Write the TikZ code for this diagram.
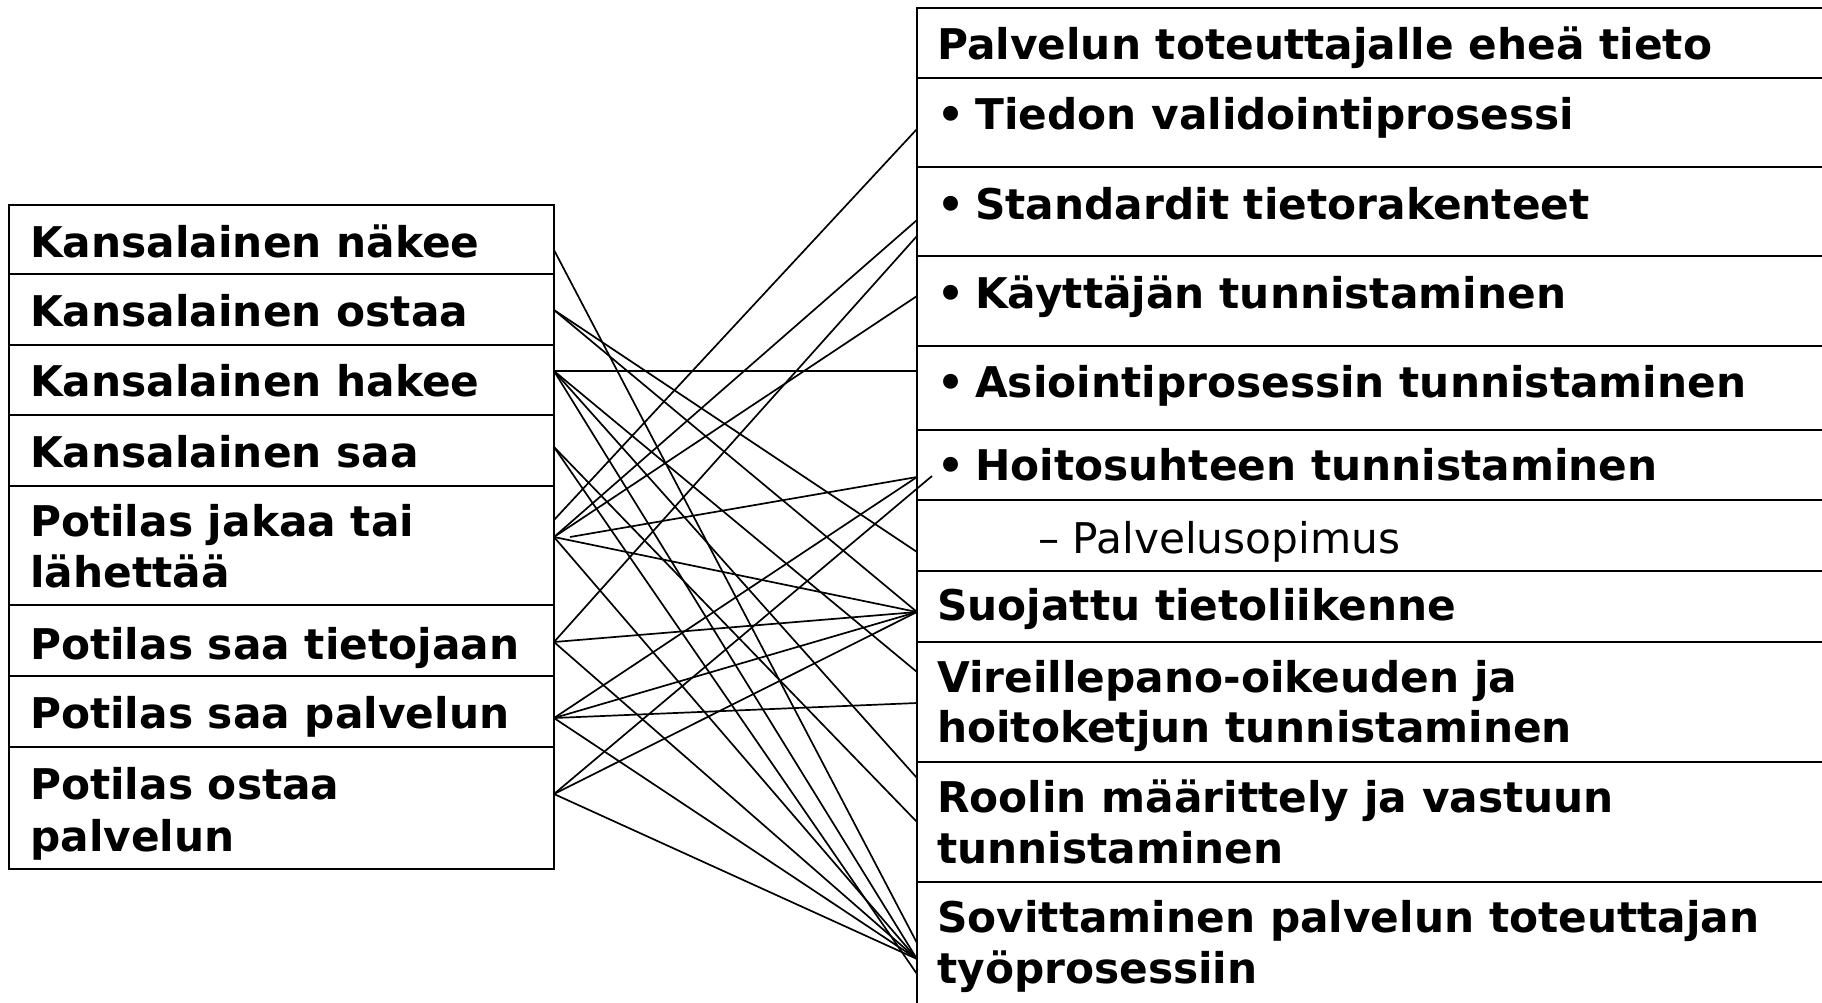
\documentclass[tikz,border=0pt]{standalone}
\usepackage{fontspec}
\setmainfont{DejaVu Sans}
\begin{document}
\begin{tikzpicture}[x=1pt,y=-1pt,
  box/.style={draw=black, line width=2.4pt},
  conn/.style={draw=black, line width=1.7pt},
  lbl/.style={anchor=base west, inner sep=0pt, font=\fontsize{42.3}{51}\selectfont\bfseries},
  sublbl/.style={anchor=base west, inner sep=0pt, font=\fontsize{42.3}{51}\selectfont}]
\path[use as bounding box] (0,0) rectangle (1822,1002);
\clip (0,0) rectangle (1822,1002);
\fill[white] (0,0) rectangle (1822,1002);

% left box
\draw[box] (9,205) rectangle (554,869);
\foreach \y in {274,345,415,486,605,676,747} \draw[box] (9,\y) -- (554,\y);
% right box
\draw[box] (917,8) rectangle (1900,1100);
\foreach \y in {78,167,256,346,430,500,571,642,762,882} \draw[box] (917,\y) -- (1900,\y);

% left texts
\node[lbl] (k1) at (30,257) {Kansalainen näkee};
\node[lbl] (k2) at (30,326) {Kansalainen ostaa};
\node[lbl] (k3) at (30,396) {Kansalainen hakee};
\node[lbl] (k4) at (30,467) {Kansalainen saa};
\node[lbl] (p1a) at (30,536) {Potilas jakaa tai};
\node[lbl] (p1b) at (30,587) {lähettää};
\node[lbl] (p2) at (30,659) {Potilas saa tietojaan};
\node[lbl] (p3) at (30,728) {Potilas saa palvelun};
\node[lbl] (p4a) at (30,799) {Potilas ostaa};
\node[lbl] (p4b) at (30,851) {palvelun};

% right texts
\node[lbl] (r0) at (937,59) {Palvelun toteuttajalle eheä tieto};
\node[lbl] (r1) at (937,129) {\makebox[38pt][l]{•}Tiedon validointiprosessi};
\node[lbl] (r2) at (937,219) {\makebox[38pt][l]{•}Standardit tietorakenteet};
\node[lbl] (r3) at (937,308) {\makebox[38pt][l]{•}Käyttäjän tunnistaminen};
\node[lbl] (r4) at (937,397) {\makebox[38pt][l]{•}Asiointiprosessin tunnistaminen};
\node[lbl] (r5) at (937,480) {\makebox[38pt][l]{•}Hoitosuhteen tunnistaminen};
\node[sublbl] (r6) at (1038,553) {– Palvelusopimus};
\node[lbl] (r7) at (937,620) {Suojattu tietoliikenne};
\node[lbl] (r8a) at (937,692) {Vireillepano-oikeuden ja};
\node[lbl] (r8b) at (937,742) {hoitoketjun tunnistaminen};
\node[lbl] (r9a) at (937,812) {Roolin määrittely ja vastuun};
\node[lbl] (r9b) at (937,863) {tunnistaminen};
\node[lbl] (r10a) at (937,932) {Sovittaminen palvelun toteuttajan};
\node[lbl] (r10b) at (937,983) {työprosessiin};

% connector end points
\coordinate (L1) at (554,250);
\coordinate (L2) at (554,310);
\coordinate (L3) at (554,371);
\coordinate (L4) at (554,447);
\coordinate (L5a) at (554,520);
\coordinate (L5b) at (554,537);
\coordinate (L5c) at (570,537);
\coordinate (L6) at (554,642);
\coordinate (L7) at (554,718);
\coordinate (L8) at (554,794);

\coordinate (Ra) at (917,129);
\coordinate (Rb1) at (917,220);
\coordinate (Rb2) at (917,236);
\coordinate (Rc) at (917,296);
\coordinate (Rd) at (917,371);
\coordinate (Re) at (917,477);
\coordinate (Re2) at (932,476);
\coordinate (Rf) at (917,552);
\coordinate (Rg) at (917,612);
\coordinate (Rh1) at (917,672);
\coordinate (Rh2) at (917,703);
\coordinate (Ri1) at (917,778);
\coordinate (Ri2) at (917,822);
\coordinate (Rj1) at (917,943);
\coordinate (Rj2) at (917,959);
\coordinate (Rj3) at (917,974);

% connectors
\draw[conn] (L1) -- (Rj1);
\draw[conn] (L2) -- (Rf);
\draw[conn] (L2) -- (Rg);
\draw[conn] (L3) -- (Rd);
\draw[conn] (L3) -- (Rh1);
\draw[conn] (L3) -- (Ri1);
\draw[conn] (L3) -- (Rj2);
\draw[conn] (L4) -- (Ri2);
\draw[conn] (L4) -- (Rj3);
\draw[conn] (L5a) -- (Ra);
\draw[conn] (L5b) -- (Rb1);
\draw[conn] (L5b) -- (Rc);
\draw[conn] (L5c) -- (Re);
\draw[conn] (L5b) -- (Rg);
\draw[conn] (L5b) -- (Rj2);
\draw[conn] (L6) -- (Rb2);
\draw[conn] (L6) -- (Rg);
\draw[conn] (L6) -- (Rj2);
\draw[conn] (L7) -- (Re);
\draw[conn] (L7) -- (Rg);
\draw[conn] (L7) -- (Rh2);
\draw[conn] (L7) -- (Rj2);
\draw[conn] (L8) -- (Re2);
\draw[conn] (L8) -- (Rg);
\draw[conn] (L8) -- (Rj2);
\end{tikzpicture}
\end{document}
